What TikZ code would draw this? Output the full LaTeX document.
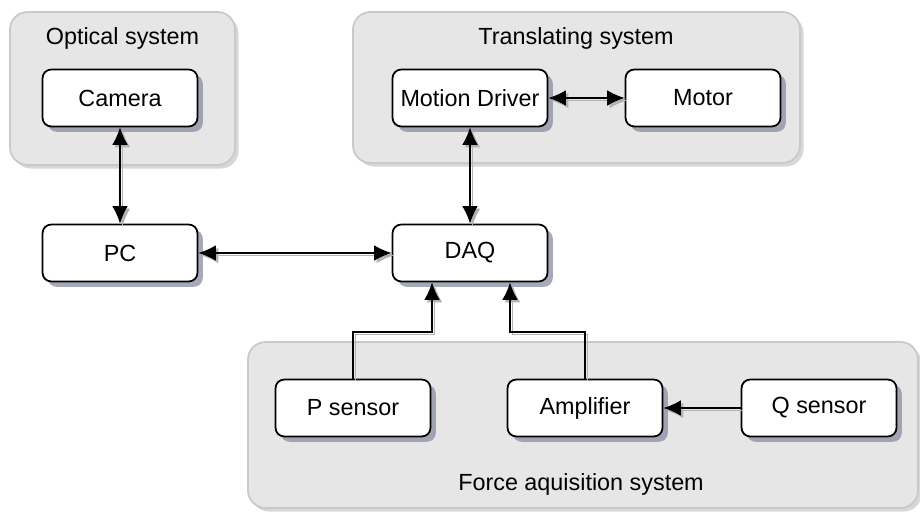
\documentclass[tikz,border=0pt]{standalone}
\usepackage{fontspec}
\setmainfont{Liberation Sans}
\usetikzlibrary{arrows.meta,shadows}

\definecolor{grpfill}{HTML}{E6E6E6}
\definecolor{grpline}{HTML}{C9C9C9}
\definecolor{shade}{HTML}{8E93A6}

\tikzset{
  group/.style={draw=grpline, fill=grpfill, line width=1pt, rounded corners=10pt,
    drop shadow={shadow xshift=2pt, shadow yshift=-2pt, fill=black!35, opacity=.45}},
  unit/.style={draw, fill=white, line width=1pt, rounded corners=5pt,
    minimum width=3.1cm, minimum height=1.14cm,
    drop shadow={shadow xshift=3pt, shadow yshift=-3pt, fill=shade, opacity=.8}},
  conn/.style={line width=1pt,
    preaction={draw=black!30, line width=1pt, transform canvas={shift={(1.4pt,-1.4pt)}}}},
}

\begin{document}
\begin{tikzpicture}[>={Latex[length=10pt,width=9pt]}, font=\fontsize{13.3}{15}\selectfont]
\useasboundingbox (0,0) rectangle (18.4,10.22);

% subsystems
\draw[group] (0.2,6.92) rectangle (4.7,9.98);
\draw[group] (7.06,6.96) rectangle (16,9.98);
\draw[group] (4.96,0.06) rectangle (18.36,3.38);
\node (optical) at (2.45,9.46) {Optical system};
\node (translating) at (11.52,9.46) {Translating system};
\node (force) at (11.62,0.54) {Force aquisition system};

% units
\node[unit] (camera) at (2.4,8.26) {Camera};
\node[unit] (driver) at (9.4,8.26) {Motion Driver};
\node[unit] (motor) at (14.06,8.26) {Motor};
\node[unit] (pc) at (2.4,5.16) {PC};
\node[unit] (daq) at (9.4,5.16) {DAQ};
\node[unit] (psensor) at (7.06,2.06) {P sensor};
\node[unit] (amp) at (11.7,2.06) {Amplifier};
\node[unit] (qsensor) at (16.38,2.06) {Q sensor};

% bends of the sensor lines
\coordinate (pbend) at (8.64,3.58);
\coordinate (abend) at (10.2,3.58);

\draw[conn,<->] (camera) -- (pc);
\draw[conn,<->] (pc) -- (daq);
\draw[conn,<->] (driver) -- (daq);
\draw[conn,<->] (driver) -- (motor);
\draw[conn,->] (psensor.north) |- (pbend) -- (daq.south -| pbend);
\draw[conn,->] (amp.north) |- (abend) -- (daq.south -| abend);
\draw[conn,->] (qsensor) -- (amp);
\end{tikzpicture}
\end{document}
